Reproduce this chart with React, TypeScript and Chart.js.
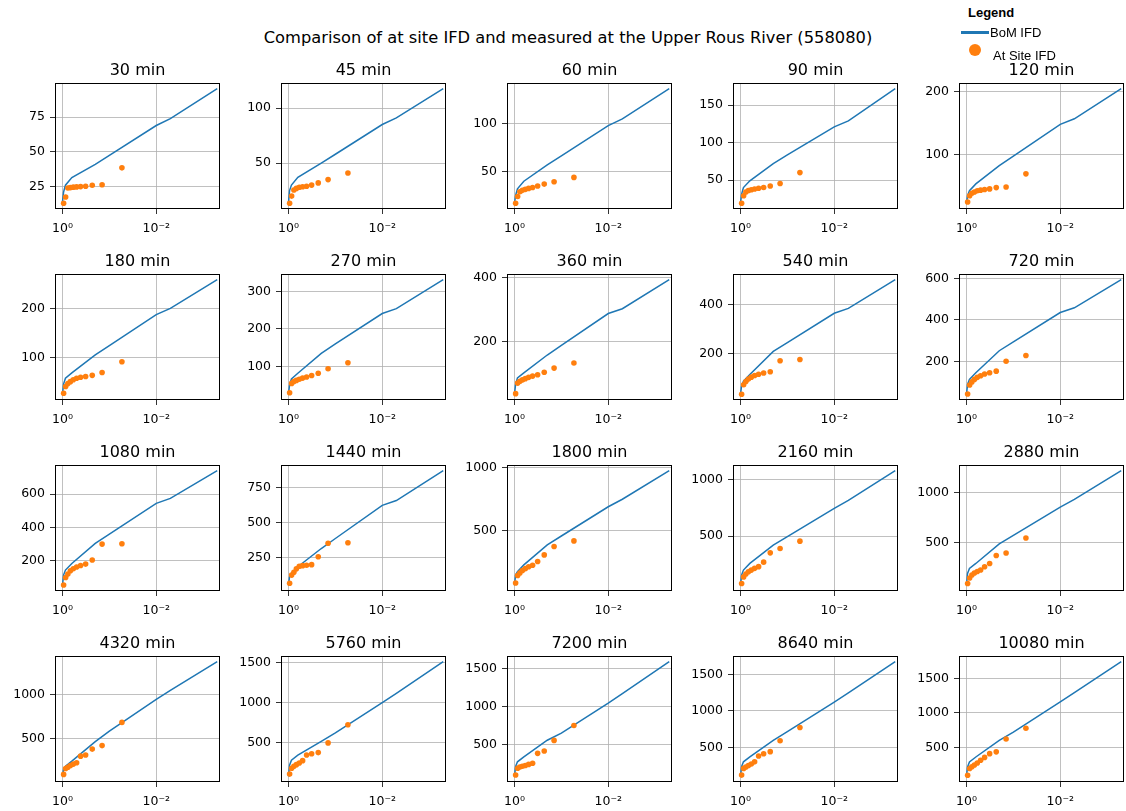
import React, { useEffect, useRef } from 'react';
import { Chart, registerables } from 'chart.js';

Chart.register(...registerables);
Chart.defaults.font.family = "'DejaVu Sans', sans-serif";

const mainTitle = 'Comparison of at site IFD and measured at the Upper Rous River (558080)';

const durations = [
  '30 min', '45 min', '60 min', '90 min', '120 min',
  '180 min', '270 min', '360 min', '540 min', '720 min',
  '1080 min', '1440 min', '1800 min', '2160 min', '2880 min',
  '4320 min', '5760 min', '7200 min', '8640 min', '10080 min',
];

// AEP of the BoM IFD curve points
const bomAEP = [0.9999, 0.95, 0.865, 0.632, 0.2, 0.1, 0.01, 0.005, 0.0005];
// plotting positions (AEP) of the at-site annual maxima
const siteAEP = [0.946, 0.857, 0.768, 0.679, 0.589, 0.5, 0.411, 0.321, 0.232, 0.143, 0.054];

const bomIFD: number[][] = [
  [14, 21, 26, 31.5, 41, 47.5, 69, 74, 95.5],
  [14, 25, 30, 37, 50, 58, 85, 91, 117.5],
  [17, 25, 32, 40, 57, 66.5, 98, 105, 136.5],
  [19, 31, 40, 49, 72, 83.5, 121, 129, 172],
  [22, 34, 42, 53, 82, 97.5, 148, 157, 205],
  [24, 45, 57, 68, 105, 124, 188, 201, 260],
  [26, 51, 67, 82, 135, 160, 241, 254, 331],
  [35, 65, 86, 102, 158, 188, 288, 303, 394],
  [33, 66, 87, 114, 208, 244, 364, 384, 501],
  [40, 88, 112, 144, 251, 294, 436, 459, 595],
  [53, 114, 144, 184, 304, 360, 544, 574, 740],
  [50, 112, 136, 183, 314, 386, 624, 659, 873],
  [62, 144, 171, 225, 385, 456, 690, 750, 978],
  [66, 156, 200, 259, 420, 495, 744, 815, 1076],
  [77, 195, 245, 295, 490, 575, 858, 935, 1222],
  [77, 154, 192, 248, 470, 590, 950, 1050, 1376],
  [86, 224, 286, 348, 520, 625, 1000, 1115, 1508],
  [84, 209, 274, 339, 557, 650, 1045, 1170, 1587],
  [102, 232, 300, 368, 595, 715, 1120, 1245, 1673],
  [88, 222, 294, 366, 605, 725, 1160, 1295, 1739],
];

const siteIFD: number[][] = [
  [13, 17.5, 24, 24.3, 24.6, 24.8, 25, 25.3, 26, 26.3, 38.5],
  [13.5, 20, 25.5, 27, 28, 28.5, 29, 30, 32, 35, 41],
  [17, 24, 29, 30.5, 31.5, 32.5, 33.5, 35, 37, 39.5, 44],
  [19, 29, 34, 36, 37, 38, 39, 40, 42, 45.5, 60],
  [24, 34, 38, 40, 42, 43, 44, 45, 47, 48, 69],
  [26, 40, 46, 50, 54, 57, 59, 60.5, 63, 69, 91],
  [30, 55, 60, 63, 66, 69, 72, 76, 82, 94, 110],
  [37, 70, 76, 80, 84, 88, 92, 96, 104, 117, 133],
  [33, 72, 85, 95, 103, 110, 115, 120, 125, 170, 175],
  [41, 85, 100, 112, 122, 130, 138, 144, 152, 200, 228],
  [55, 100, 120, 140, 152, 163, 172, 180, 205, 300, 302],
  [65, 123, 144, 168, 187, 191, 194, 198, 255, 352, 356],
  [80, 140, 160, 180, 195, 210, 222, 252, 305, 372, 417],
  [82, 140, 165, 185, 200, 215, 230, 270, 352, 390, 455],
  [95, 150, 180, 200, 215, 230, 262, 295, 375, 400, 550],
  [98, 165, 180, 200, 215, 230, 305, 318, 385, 425, 688],
  [113, 185, 210, 230, 250, 280, 350, 365, 380, 500, 725],
  [100, 190, 205, 215, 225, 240, 255, 385, 415, 555, 750],
  [118, 210, 230, 250, 270, 300, 380, 410, 440, 590, 770],
  [103, 200, 225, 250, 280, 318, 360, 414, 440, 625, 780],
];

const yTickStep = [25, 50, 50, 50, 100, 100, 100, 200, 200, 200, 200, 250, 500, 500, 500, 500, 500, 500, 500, 500];

const xTickValues = [1, 0.01];
const xTickLabels = ['10\u2070', '10\u207B\u00B2'];
const xLimitsLog = [-3.36, 0.16];

const BLUE = '#1f77b4';
const ORANGE = '#ff7f0e';
const TICK_FONT = 12.5;
const TITLE_FONT = 16;

const framePlugin = {
  id: 'frame',
  afterDatasetsDraw(chart: any) {
    const { ctx, chartArea: a } = chart;
    ctx.save();
    ctx.strokeStyle = '#000';
    ctx.lineWidth = 1;
    ctx.strokeRect(a.left + 0.5, a.top + 0.5, a.right - a.left - 1, a.bottom - a.top - 1);
    ctx.restore();
  },
};

const panelTitlePlugin = {
  id: 'panelTitle',
  afterDraw(chart: any, _args: any, opts: any) {
    const { ctx, chartArea: a } = chart;
    ctx.save();
    ctx.fillStyle = '#000';
    ctx.font = `${TITLE_FONT}px 'DejaVu Sans', sans-serif`;
    ctx.textAlign = 'center';
    ctx.textBaseline = 'alphabetic';
    ctx.fillText(opts.text, (a.left + a.right) / 2, a.top - 8);
    ctx.restore();
  },
};

const CW = 226;
const CH = 191;

function Panel({ idx }: { idx: number }) {
  const ref = useRef<HTMLCanvasElement>(null);
  useEffect(() => {
    const line = bomIFD[idx];
    const site = siteIFD[idx];
    const all = [...line, ...site];
    const lo = Math.min(...all);
    const hi = Math.max(...all);
    const pad = 0.05 * (hi - lo);
    const yMin = lo - pad;
    const yMax = hi + pad;
    const step = yTickStep[idx];
    const chart = new Chart(ref.current as HTMLCanvasElement, {
      type: 'scatter',
      data: {
        datasets: [
          {
            label: 'At Site IFD',
            data: siteAEP.map((x, i) => ({ x, y: site[i] })),
            showLine: false,
            pointRadius: 2.8,
            pointBorderWidth: 0,
            backgroundColor: ORANGE,
            borderColor: ORANGE,
          },
          {
            label: 'BoM IFD',
            data: bomAEP.map((x, i) => ({ x, y: line[i] })),
            showLine: true,
            pointRadius: 0,
            borderColor: BLUE,
            backgroundColor: BLUE,
            borderWidth: 1.5,
            tension: 0,
          },
        ],
      },
      options: {
        animation: false,
        responsive: false,
        events: [],
        layout: { padding: { left: 0, right: 11, top: 30, bottom: 0 } },
        plugins: {
          legend: { display: false },
          tooltip: { enabled: false },
          title: { display: false },
          panelTitle: { text: durations[idx] },
        },
        scales: {
          x: {
            type: 'logarithmic',
            reverse: true,
            min: Math.pow(10, xLimitsLog[0]),
            max: Math.pow(10, xLimitsLog[1]),
            afterBuildTicks: (s: any) => {
              s.ticks = xTickValues.map((v) => ({ value: v }));
            },
            afterFit: (s: any) => {
              s.height = CH - 30 - 126;
            },
            ticks: {
              autoSkip: false,
              maxRotation: 0,
              padding: 7,
              color: '#000',
              font: { size: TICK_FONT },
              callback: (v: any) => {
                const i = xTickValues.indexOf(Number(v));
                return i >= 0 ? xTickLabels[i] : '';
              },
            },
            grid: { color: '#b0b0b0', lineWidth: 0.8, tickLength: 5, tickColor: '#000', drawTicks: true },
            border: { display: false },
          },
          y: {
            type: 'linear',
            min: yMin,
            max: yMax,
            afterBuildTicks: (s: any) => {
              const t: { value: number }[] = [];
              for (let v = Math.ceil(yMin / step) * step; v <= yMax; v += step) t.push({ value: v });
              s.ticks = t;
            },
            afterFit: (s: any) => {
              s.width = 50;
            },
            ticks: {
              padding: 5,
              color: '#000',
              font: { size: TICK_FONT },
              callback: (v: any) => String(v),
            },
            grid: { color: '#b0b0b0', lineWidth: 0.8, tickLength: 5, tickColor: '#000', drawTicks: true },
            border: { display: false },
          },
        },
      } as any,
      plugins: [framePlugin, panelTitlePlugin],
    });
    return () => chart.destroy();
  }, [idx]);

  const col = idx % 5;
  const row = Math.floor(idx / 5);
  return (
    <canvas
      ref={ref}
      width={CW}
      height={CH}
      style={{ position: 'absolute', left: 5 + 226 * col, top: 53 + 191 * row, width: CW, height: CH }}
    />
  );
}

const legendText = {
  position: 'absolute' as const,
  fontFamily: "'Liberation Sans', Arial, sans-serif",
  fontSize: 13,
  lineHeight: '16px',
  color: '#000',
  whiteSpace: 'nowrap' as const,
};

export default function App() {
  return (
    <div
      style={{
        position: 'fixed',
        left: 0,
        top: 0,
        width: 1126,
        height: 811,
        overflow: 'hidden',
        background: '#fff',
      }}
    >
      {durations.map((_, i) => (
        <Panel key={i} idx={i} />
      ))}
      <div
        style={{
          position: 'absolute',
          left: 0,
          width: 1136,
          top: 28,
          textAlign: 'center',
          fontFamily: "'DejaVu Sans', sans-serif",
          fontSize: 16.3,
          lineHeight: '20px',
          color: '#000',
          whiteSpace: 'nowrap',
        }}
      >
        {mainTitle}
      </div>
      <div style={{ ...legendText, left: 968, top: 5, fontWeight: 'bold' }}>Legend</div>
      <div style={{ position: 'absolute', left: 961, top: 31, width: 28, height: 3, background: BLUE }} />
      <div style={{ ...legendText, left: 990, top: 25 }}>BoM IFD</div>
      <div
        style={{
          position: 'absolute',
          left: 969,
          top: 44,
          width: 12,
          height: 12,
          borderRadius: '50%',
          background: ORANGE,
        }}
      />
      <div style={{ ...legendText, left: 993, top: 48 }}>At Site IFD</div>
    </div>
  );
}
